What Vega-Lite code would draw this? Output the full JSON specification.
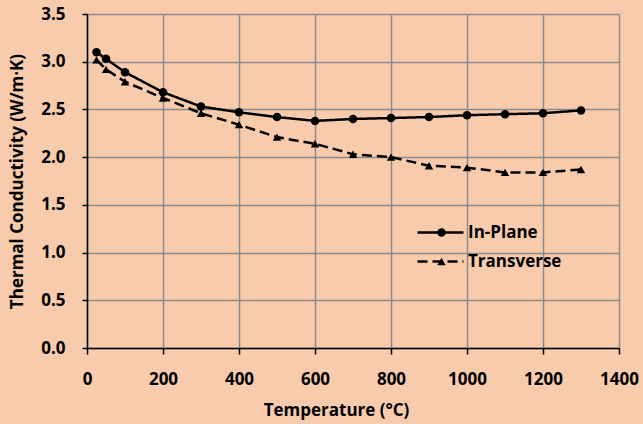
{
  "$schema": "https://vega.github.io/schema/vega-lite/v6.json",
  "width": 532,
  "height": 334,
  "autosize": {"type": "none"},
  "padding": {"left": 87, "top": 14, "right": 24, "bottom": 76},
  "background": "#F8CBAD",
  "title": {
    "text": "Thermal Conductivity",
    "fontSize": 22,
    "font": "Open Sans",
    "fontWeight": "bold",
    "color": "black",
    "anchor": "middle",
    "frame": "group",
    "baseline": "alphabetic",
    "offset": 10,
    "dx": -38
  },
  "config": {
    "view": {"stroke": null},
    "font": "Open Sans",
    "axis": {
      "labelFont": "Open Sans",
      "labelFontWeight": "bold",
      "labelFontSize": 17,
      "labelColor": "black",
      "titleFont": "Open Sans",
      "titleFontWeight": "bold",
      "titleFontSize": 17,
      "titleColor": "black",
      "domainColor": "black",
      "domainWidth": 1.5,
      "tickColor": "black",
      "tickWidth": 1.5,
      "gridColor": "#8A8A8A",
      "gridWidth": 1.5,
      "gridOpacity": 1
    }
  },
  "data": {
    "values": [
      {"temp": 25, "k": 3.10, "series": "In-Plane"},
      {"temp": 50, "k": 3.03, "series": "In-Plane"},
      {"temp": 100, "k": 2.89, "series": "In-Plane"},
      {"temp": 200, "k": 2.68, "series": "In-Plane"},
      {"temp": 300, "k": 2.53, "series": "In-Plane"},
      {"temp": 400, "k": 2.47, "series": "In-Plane"},
      {"temp": 500, "k": 2.42, "series": "In-Plane"},
      {"temp": 600, "k": 2.38, "series": "In-Plane"},
      {"temp": 700, "k": 2.40, "series": "In-Plane"},
      {"temp": 800, "k": 2.41, "series": "In-Plane"},
      {"temp": 900, "k": 2.42, "series": "In-Plane"},
      {"temp": 1000, "k": 2.44, "series": "In-Plane"},
      {"temp": 1100, "k": 2.45, "series": "In-Plane"},
      {"temp": 1200, "k": 2.46, "series": "In-Plane"},
      {"temp": 1300, "k": 2.49, "series": "In-Plane"},
      {"temp": 25, "k": 3.02, "series": "Transverse"},
      {"temp": 50, "k": 2.92, "series": "Transverse"},
      {"temp": 100, "k": 2.79, "series": "Transverse"},
      {"temp": 200, "k": 2.62, "series": "Transverse"},
      {"temp": 300, "k": 2.46, "series": "Transverse"},
      {"temp": 400, "k": 2.34, "series": "Transverse"},
      {"temp": 500, "k": 2.21, "series": "Transverse"},
      {"temp": 600, "k": 2.14, "series": "Transverse"},
      {"temp": 700, "k": 2.03, "series": "Transverse"},
      {"temp": 800, "k": 2.00, "series": "Transverse"},
      {"temp": 900, "k": 1.91, "series": "Transverse"},
      {"temp": 1000, "k": 1.89, "series": "Transverse"},
      {"temp": 1100, "k": 1.84, "series": "Transverse"},
      {"temp": 1200, "k": 1.84, "series": "Transverse"},
      {"temp": 1300, "k": 1.87, "series": "Transverse"}
    ]
  },
  "encoding": {
    "x": {
      "field": "temp",
      "type": "quantitative",
      "scale": {"domain": [0, 1400], "nice": false},
      "axis": {
        "values": [0, 200, 400, 600, 800, 1000, 1200, 1400],
        "format": "d",
        "title": "Temperature (°C)",
        "tickSize": 6,
        "labelPadding": 17,
        "titlePadding": 15,
        "titleX": 249,
        "labelFlush": false
      }
    },
    "y": {
      "field": "k",
      "type": "quantitative",
      "scale": {"domain": [0, 3.5], "nice": false},
      "axis": {
        "values": [0, 0.5, 1, 1.5, 2, 2.5, 3, 3.5],
        "format": ".1f",
        "title": "Thermal Conductivity (W/m·K)",
        "tickSize": 5,
        "labelPadding": 17,
        "titlePadding": 14
      }
    }
  },
  "layer": [
    {
      "mark": {"type": "line", "color": "black", "strokeWidth": 2.5},
      "encoding": {
        "strokeDash": {
          "field": "series",
          "type": "nominal",
          "scale": {"domain": ["In-Plane", "Transverse"], "range": [[1, 0], [10, 5]]},
          "legend": {
            "title": null,
            "orient": "none",
            "legendX": 359,
            "legendY": 210,
            "padding": 0,
            "symbolType": "M-7.4,0H1.8",
            "symbolSize": 100,
            "symbolStrokeColor": "black",
            "symbolStrokeWidth": 2.5,
            "labelFont": "Open Sans",
            "labelFontWeight": "bold",
            "labelFontSize": 17,
            "labelColor": "black",
            "labelOffset": 5,
            "rowPadding": 11
          }
        }
      }
    },
    {
      "mark": {"type": "point", "filled": true, "color": "black", "opacity": 1, "size": 72},
      "encoding": {
        "shape": {
          "field": "series",
          "type": "nominal",
          "scale": {"range": ["circle", "triangle-up"]},
          "legend": {
            "title": null,
            "orient": "none",
            "legendX": 346,
            "legendY": 210,
            "padding": 0,
            "symbolSize": 72,
            "symbolFillColor": "black",
            "symbolStrokeWidth": 0,
            "labelFont": "Open Sans",
            "labelFontWeight": "bold",
            "labelFontSize": 17,
            "labelExpr": "''",
            "labelOffset": 4,
            "rowPadding": 11
          }
        }
      }
    }
  ]
}
